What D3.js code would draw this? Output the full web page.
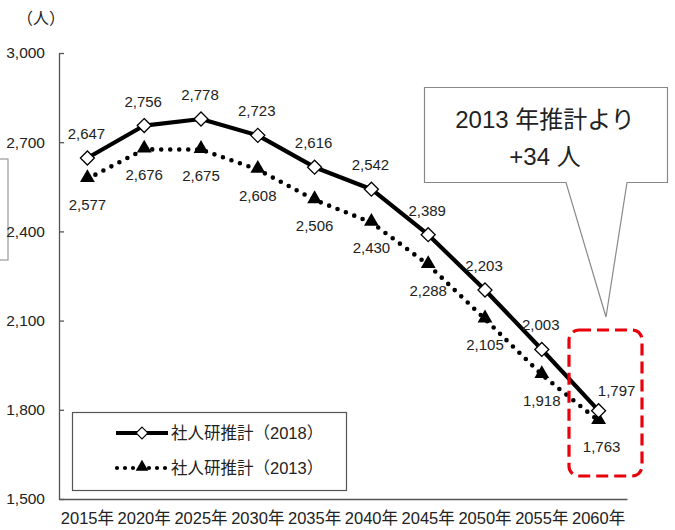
<!DOCTYPE html>
<html>
<head>
<meta charset="utf-8">
<script src="https://cdn.jsdelivr.net/npm/d3@7"></script>
<style>
  html, body { margin: 0; padding: 0; background: #fff; }
  svg { display: block; }
  text { font-family: "Liberation Sans", Arial, "Noto Sans CJK JP", sans-serif; fill: #222; }
</style>
</head>
<body>
<svg id="chart" width="675" height="530"></svg>
<script>
// Projected population (人), two estimates
const years = ["2015年","2020年","2025年","2030年","2035年","2040年","2045年","2050年","2055年","2060年"];
const est2018 = [2647, 2756, 2778, 2723, 2616, 2542, 2389, 2203, 2003, 1797];
const est2013 = [2577, 2676, 2675, 2608, 2506, 2430, 2288, 2105, 1918, 1763];
const yTicks = [1500, 1800, 2100, 2400, 2700, 3000];
const seriesNames = ["社人研推計（2018）", "社人研推計（2013）"];
const calloutLines = ["2013 年推計より", "+34 人"];
const unitLabel = "（人）";

const svg = d3.select("#chart");
const plotLeft = 59, plotRight = 627, plotTop = 53, plotBottom = 499;

const x = d3.scaleBand().domain(years).range([plotLeft, plotRight]);
const cx = d => x(d) + x.bandwidth() / 2;
const y = d3.scaleLinear().domain([1500, 3000]).range([plotBottom, plotTop]);

// partially visible box at the left edge
svg.append("rect").attr("x", -5).attr("y", 159).attr("width", 13).attr("height", 101)
  .attr("fill", "none").attr("stroke", "#999").attr("stroke-width", 1.2);

// y axis with inward ticks
const yAxis = svg.append("g").attr("transform", `translate(${plotLeft},0)`)
  .call(d3.axisLeft(y).tickValues(yTicks).tickSizeInner(-5).tickSizeOuter(0)
    .tickFormat(d3.format(",")).tickPadding(14));
yAxis.select(".domain").attr("stroke", "#555").attr("stroke-width", 1.3);
yAxis.selectAll(".tick line").attr("stroke", "#555").attr("stroke-width", 1.3);
yAxis.selectAll(".tick text").attr("font-size", 15.5).attr("fill", "#222")
  .attr("font-family", "Liberation Sans, Arial, sans-serif");

// x axis
const xAxis = svg.append("g").attr("transform", `translate(0,${plotBottom})`)
  .call(d3.axisBottom(x).tickSize(0).tickPadding(13));
xAxis.select(".domain").attr("stroke", "#555").attr("stroke-width", 1.3);
xAxis.selectAll(".tick text").attr("font-size", 16.5).attr("fill", "#111")
  .attr("font-family", "'Noto Sans CJK JP', sans-serif");

// unit label
svg.append("text").attr("x", 17).attr("y", 24).attr("font-size", 16)
  .attr("font-family", "'Noto Sans CJK JP', sans-serif").text(unitLabel);

const line = d3.line().x((d, i) => cx(years[i])).y(d => y(d));

// 2013 estimate: dotted line with filled triangles
svg.append("path").datum(est2013).attr("d", line)
  .attr("fill", "none").attr("stroke", "#000").attr("stroke-width", 4.6)
  .attr("stroke-linecap", "round").attr("stroke-dasharray", "0 9");
const tri = d3.symbol().type(d3.symbolTriangle).size(95);
svg.append("g").selectAll("path").data(est2013).join("path")
  .attr("d", tri).attr("fill", "#000")
  .attr("transform", (d, i) => `translate(${cx(years[i])},${y(d) - 1})`);

// 2018 estimate: solid line with open diamonds
svg.append("path").datum(est2018).attr("d", line)
  .attr("fill", "none").attr("stroke", "#000").attr("stroke-width", 4.2)
  .attr("stroke-linejoin", "round");
const diamondPath = "M0,-7L7,0L0,7L-7,0Z";
svg.append("g").selectAll("path").data(est2018).join("path")
  .attr("d", diamondPath).attr("fill", "#fff").attr("stroke", "#000").attr("stroke-width", 1.3)
  .attr("transform", (d, i) => `translate(${cx(years[i])},${y(d)})`);

// value labels
const fmt = d3.format(",");
const last = years.length - 1;
svg.append("g").selectAll("text").data(est2018).join("text")
  .attr("x", (d, i) => cx(years[i]) + (i === last ? 18 : -1))
  .attr("y", (d, i) => y(d) + (i === last ? -15 : -19))
  .attr("text-anchor", "middle").attr("font-size", 15).text(d => fmt(d));
svg.append("g").selectAll("text").data(est2013).join("text")
  .attr("x", (d, i) => cx(years[i]) + (i === last ? 3 : 0))
  .attr("y", (d, i) => y(d) + 31)
  .attr("text-anchor", "middle").attr("font-size", 15).text(d => fmt(d));

// legend
const lg = svg.append("g");
lg.append("rect").attr("x", 72.5).attr("y", 412.5).attr("width", 274).attr("height", 78)
  .attr("fill", "#fff").attr("stroke", "#555").attr("stroke-width", 1.2);
lg.append("line").attr("x1", 116).attr("x2", 168).attr("y1", 433).attr("y2", 433)
  .attr("stroke", "#000").attr("stroke-width", 4.2);
lg.append("path").attr("d", diamondPath).attr("fill", "#fff").attr("stroke", "#000")
  .attr("stroke-width", 1.3).attr("transform", "translate(142,433) scale(0.85)");
lg.append("line").attr("x1", 117).attr("x2", 168).attr("y1", 468).attr("y2", 468)
  .attr("stroke", "#000").attr("stroke-width", 4.2).attr("stroke-linecap", "round")
  .attr("stroke-dasharray", "0 8");
lg.append("path").attr("d", d3.symbol().type(d3.symbolTriangle).size(70))
  .attr("fill", "#000").attr("transform", "translate(142,467)");
seriesNames.forEach((s, i) => {
  lg.append("text").attr("x", 171).attr("y", 439 + i * 35).attr("font-size", 16.5)
    .attr("font-family", "'Noto Sans CJK JP', sans-serif").text(s);
});

// callout with pointer
const cg = svg.append("g");
cg.append("path")
  .attr("d", "M424.5,87.5H667.5V182.5H627L606,317L566,182.5H424.5Z")
  .attr("fill", "#fff").attr("stroke", "#888").attr("stroke-width", 1.2);
calloutLines.forEach((t, i) => {
  cg.append("text").attr("x", 545).attr("y", 128 + i * 37).attr("text-anchor", "middle")
    .attr("font-size", 24)
    .attr("font-family", "'Liberation Sans Narrow', 'Noto Sans CJK JP', sans-serif")
    .text(t);
});

// highlight around the final year
svg.append("rect").attr("x", 569).attr("y", 330).attr("width", 73).attr("height", 146)
  .attr("rx", 10).attr("fill", "none").attr("stroke", "#e8000b").attr("stroke-width", 3.2)
  .attr("stroke-dasharray", "12 6");
</script>
</body>
</html>
